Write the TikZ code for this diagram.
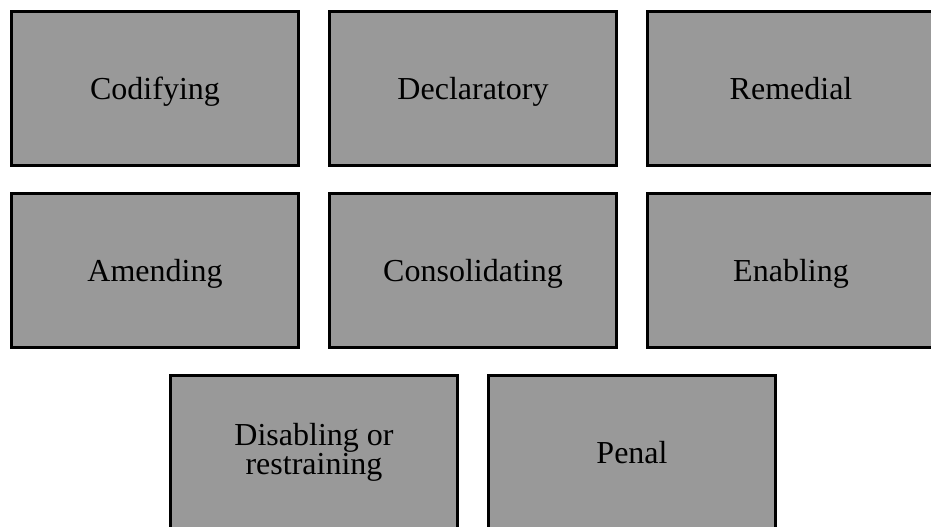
\documentclass[tikz,border=0pt]{standalone}
\usepackage{fontspec}
\setmainfont{Liberation Serif}
\usetikzlibrary{positioning,calc}
\definecolor{boxgray}{HTML}{999999}
\tikzset{
  kindbox/.style={draw=black, fill=boxgray, line width=2.8pt,
    minimum width=287.2pt, minimum height=154.2pt,
    text height=26pt, text depth=5pt,
    font=\fontsize{32}{27}\selectfont},
  twoline/.style={align=center, text height=, text depth=}
}
\begin{document}
\begin{tikzpicture}
  \useasboundingbox (0,0) rectangle (931pt,-527pt);
  % first row
  \node[kindbox] (cod) at (155pt,-88.5pt) {Codifying};
  \node[kindbox, right=28pt of cod] (dec) {Declaratory};
  \node[kindbox, right=28pt of dec] (rem) {Remedial};
  % second row
  \node[kindbox, below=25pt of cod] (amd) {Amending};
  \node[kindbox, right=28pt of amd] (con) {Consolidating};
  \node[kindbox, right=28pt of con] (ena) {Enabling};
  % third row, centred under the gap
  \node[kindbox, twoline, below=25pt of $(amd.south)!0.5!(con.south)$, anchor=north] (dis) {Disabling or\\restraining};
  \node[kindbox, right=28pt of dis] (pen) {Penal};
\end{tikzpicture}
\end{document}
